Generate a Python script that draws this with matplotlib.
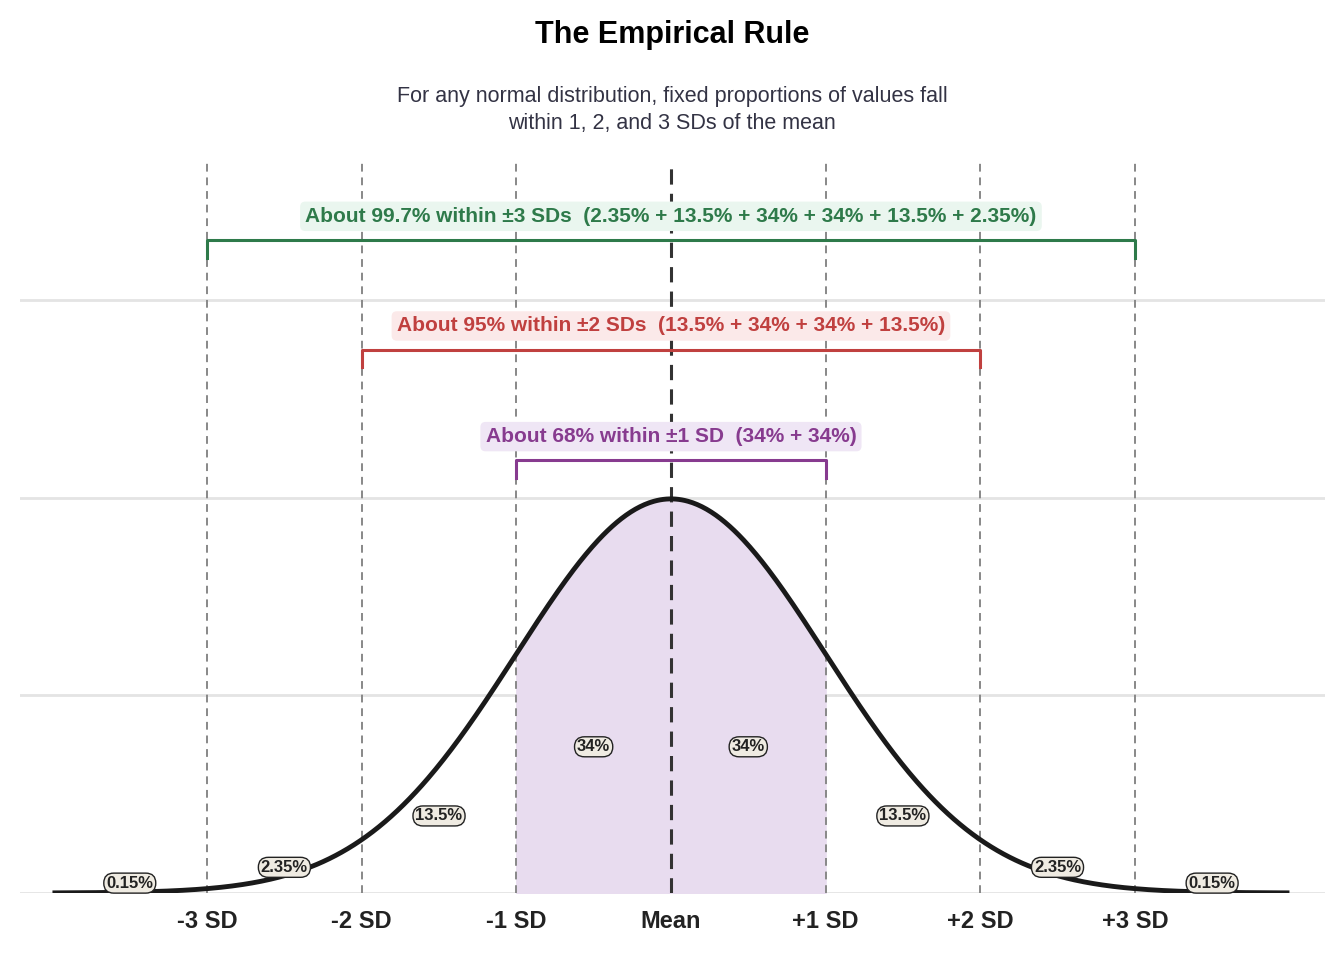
import numpy as np
import matplotlib
matplotlib.use("Agg")
import matplotlib.pyplot as plt
plt.rcParams['font.family'] = ['Liberation Sans', 'DejaVu Sans']

sd_pos = [-3, -2, -1, 0, 1, 2, 3]
tick_labels = ["-3 SD", "-2 SD", "-1 SD", "Mean", "+1 SD", "+2 SD", "+3 SD"]
seg_x = [-3.5, -2.5, -1.5, -0.5, 0.5, 1.5, 2.5, 3.5]
seg_labels = ["0.15%", "2.35%", "13.5%", "34%", "34%", "13.5%", "2.35%", "0.15%"]
seg_y = [0.010, 0.026, 0.078, 0.148, 0.148, 0.078, 0.026, 0.010]
bracket_k = [3, 2, 1]
bracket_y = [0.661, 0.550, 0.438]
bracket_text = ["About 99.7% within ±3 SDs  (2.35% + 13.5% + 34% + 34% + 13.5% + 2.35%)",
                "About 95% within ±2 SDs  (13.5% + 34% + 34% + 13.5%)",
                "About 68% within ±1 SD  (34% + 34%)"]
bracket_col = ["#2e7a4a", "#c0403f", "#873b8f"]
bracket_bg = ["#eaf6ef", "#fbe9e9", "#efe6f5"]

fig = plt.figure(figsize=(13.44, 9.6), dpi=100)
ax = fig.add_axes([20/1344, 1-893/960, 1305/1344, (893-160)/960])
x = np.linspace(-4, 4, 801)
y = np.exp(-x**2/2)/np.sqrt(2*np.pi)
for g in [0, 0.2, 0.4, 0.6]:
    ax.axhline(g, color="#e4e4e4", lw=2, zorder=0)
m = (x >= -1) & (x <= 1)
ax.fill_between(x[m], y[m], color="#e8dcef", zorder=1)
ax.plot(x, y, color="#1a1a1a", lw=3.5, zorder=4, solid_capstyle="butt")
for p in sd_pos:
    if p == 0:
        ax.axvline(p, color="#333333", lw=2.2, ls=(0, (5, 3)), zorder=3)
    else:
        ax.axvline(p, color="#888888", lw=1.4, ls=(0, (4, 3)), zorder=3)
for sx, sl, sy in zip(seg_x, seg_labels, seg_y):
    ax.text(sx, sy, sl, ha="center", va="center", fontsize=12, fontweight="bold", color="#222222", zorder=6,
            bbox=dict(boxstyle="round,pad=0.15,rounding_size=0.6", fc="#efebe2", ec="#222222", lw=1))
for k, by, bt, bc, bg in zip(bracket_k, bracket_y, bracket_text, bracket_col, bracket_bg):
    ax.plot([-k, -k, k, k], [by-0.018, by, by, by-0.018], color=bc, lw=2.2, zorder=5)
    ax.text(0, by+0.024, bt, ha="center", va="center", fontsize=15, fontweight="bold", color=bc, zorder=6,
            bbox=dict(boxstyle="round,pad=0.25", fc=bg, ec="none"))
ax.set_xlim(-4.21, 4.23)
ax.set_ylim(0, 0.742)
ax.set_xticks(sd_pos)
ax.set_xticklabels(tick_labels, fontsize=17, fontweight="bold", color="#222222")
ax.tick_params(axis="x", length=0, pad=12)
ax.set_yticks([])
for s in ax.spines.values():
    s.set_visible(False)
fig.text(0.5, 1-35/960, "The Empirical Rule", ha="center", va="center", fontsize=22, fontweight="bold")
fig.text(0.5, 1-110/960, "For any normal distribution, fixed proportions of values fall\nwithin 1, 2, and 3 SDs of the mean",
         ha="center", va="center", fontsize=15.5, color="#333344", linespacing=1.35)
fig.savefig("out.png", dpi=100)
